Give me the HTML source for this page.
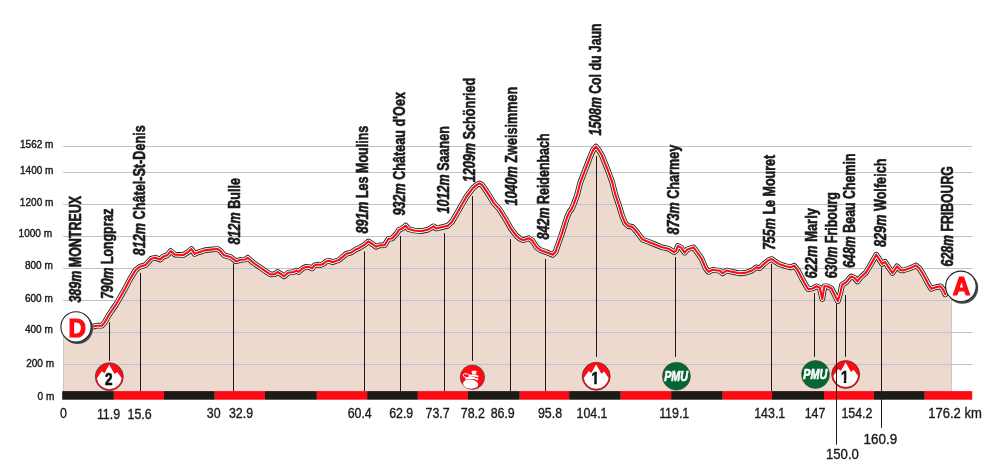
<!DOCTYPE html>
<html lang="fr"><head><meta charset="utf-8"><title>Profil étape Montreux – Fribourg</title>
<style>html,body{margin:0;padding:0;background:#fff}body{width:997px;height:473px;overflow:hidden}svg{display:block}text{font-family:'Liberation Sans', Arial, Helvetica, sans-serif;fill:#1a1a1a}.r{font-weight:bold}.ri{font-weight:bold;font-style:italic}.rl{stroke:#1a1a1a;stroke-width:0.6px;stroke-linejoin:round}.yl{stroke:#1a1a1a;stroke-width:0.4px}.xl{stroke:#1a1a1a;stroke-width:0.35px}</style></head><body>
<svg width="997" height="473" viewBox="0 0 997 473">
<rect width="997" height="473" fill="#fff"/>
<defs><clipPath id="nofoot"><path d="M-7 -15H7V-2.7H1.9V1H-1.15V-2.7H-7Z"/></clipPath></defs>
<polygon points="63.5,391.5 63.5,327 88.0,327.0 93.1,326.6 97.1,325.7 101.8,325.7 104.6,322.6 108.2,316.0 112.2,310.0 115.7,305.0 118.4,300.3 124.4,290.0 130.0,279.3 135.6,270.0 139.8,266.8 145.4,265.1 151.1,258.8 155.3,257.7 160.2,259.5 163.0,256.7 167.2,255.3 170.7,251.1 174.9,254.6 183.4,255.0 188.3,251.8 191.4,249.0 194.6,253.9 198.8,252.2 205.8,250.1 212.9,249.4 217.8,249.0 220.6,251.1 224.1,255.3 230.4,257.0 236.0,261.2 241.0,259.8 245.2,259.5 247.7,257.8 253.6,263.0 261.0,268.0 265.6,271.3 270.5,274.4 274.7,274.2 277.6,272.0 281.1,274.2 284.2,276.3 288.1,272.8 293.7,272.0 296.5,270.6 298.6,272.0 300.7,269.9 303.0,268.2 306.5,266.7 309.9,267.3 312.0,268.4 314.5,265.5 316.9,264.6 321.3,264.8 323.5,263.7 326.5,261.2 329.5,260.8 332.3,262.2 338.7,260.1 346.4,253.8 351.3,252.4 356.9,248.9 359.0,248.2 364.6,244.7 368.4,241.4 372.4,244.0 375.9,246.8 379.4,245.4 384.5,245.2 388.5,238.8 392.0,238.5 396.9,233.2 399.0,229.9 402.3,228.5 405.7,225.6 408.4,229.1 414.0,230.5 421.0,231.2 428.0,229.6 433.6,226.3 436.2,228.5 442.2,227.1 447.8,225.7 451.7,222.2 456.0,215.0 461.6,205.2 466.6,196.5 472.9,188.2 476.4,185.1 479.2,183.4 482.0,184.8 486.9,191.9 493.9,203.1 499.5,209.4 505.2,218.5 510.8,228.4 516.6,236.0 520.0,238.8 523.5,240.2 528.8,238.2 532.3,240.7 536.5,247.0 540.0,249.9 546.3,252.2 552.7,254.8 555.5,252.0 558.6,243.1 561.1,236.1 564.1,226.6 567.1,217.0 569.6,211.6 571.6,209.1 573.6,204.6 577.1,195.0 580.1,183.1 585.1,170.1 590.1,157.1 593.1,150.0 595.9,146.5 598.6,150.0 601.7,155.0 604.2,161.1 608.2,171.1 612.2,182.1 615.2,194.0 619.2,206.1 622.2,216.1 625.2,223.1 628.2,226.1 632.4,226.9 636.9,232.0 642.5,239.6 648.1,241.7 655.1,244.5 662.1,247.3 668.5,248.7 674.1,252.2 676.2,250.6 677.8,246.0 681.1,247.6 684.6,252.6 687.4,249.4 693.5,247.4 696.5,251.5 701.5,258.5 705.7,268.4 708.5,271.9 712.7,269.8 716.9,270.5 719.7,270.5 722.5,273.3 726.7,270.5 732.4,271.9 739.4,273.3 746.4,272.6 752.0,270.5 756.3,267.4 759.8,268.1 764.0,263.9 768.3,260.4 771.8,259.0 774.6,261.1 778.8,263.9 785.1,266.0 790.7,267.4 794.0,265.7 797.8,270.2 802.0,278.6 805.5,284.9 808.3,289.2 812.5,288.5 816.7,286.3 819.8,287.8 822.3,299.0 824.4,286.3 827.2,286.3 831.5,288.5 837.8,301.1 840.6,292.0 842.0,284.9 846.2,282.1 851.1,276.5 854.6,277.9 857.4,281.4 860.8,277.2 865.9,272.6 870.8,264.4 876.3,254.7 879.3,259.4 882.2,263.9 885.0,261.8 888.6,267.4 892.4,273.0 897.0,266.3 900.7,270.2 903.3,270.4 909.0,268.6 912.5,267.2 915.8,265.4 919.5,268.5 923.5,275.0 928.1,283.6 931.2,288.8 935.3,287.4 940.6,286.3 943.2,289.8 945.4,294.4 947,297 951.7,299 951.7,391.5" fill="#edd9cd"/>
<path d="M63.5 327V391.5M951.5 297V391.5" stroke="#c3c8d6" stroke-width="1" fill="none"/>
<path d="M63.2 146.5H972.2M63.2 172.5H972.2M63.2 204.5H972.2M63.2 236.5H972.2M63.2 268.5H972.2M63.2 300.5H972.2M63.2 332.5H972.2M63.2 364.5H972.2" stroke="#bdc2d0" stroke-width="1" fill="none"/>
<path d="M109.5 322.3V360.8M140.5 272.8V391.3M233.5 263.4V391.3M364.5 251.4V391.3M400.5 236.0V391.3M444.5 233.2V391.3M472.5 196.1V360.8M510.5 239.2V391.3M545.5 259.0V391.3M596.5 156.0V356.8M675.5 257.1V356.8M771.5 263.9V391.3M814.5 293.1V356.8M845.5 295.0V356.8M881.5 267.4V427.8" stroke="#1a1a1a" stroke-width="1" fill="none"/>
<g fill="none" stroke-linejoin="round" stroke-linecap="round">
<polyline points="88.0,327.0 93.1,326.6 97.1,325.7 101.8,325.7 104.6,322.6 108.2,316.0 112.2,310.0 115.7,305.0 118.4,300.3 124.4,290.0 130.0,279.3 135.6,270.0 139.8,266.8 145.4,265.1 151.1,258.8 155.3,257.7 160.2,259.5 163.0,256.7 167.2,255.3 170.7,251.1 174.9,254.6 183.4,255.0 188.3,251.8 191.4,249.0 194.6,253.9 198.8,252.2 205.8,250.1 212.9,249.4 217.8,249.0 220.6,251.1 224.1,255.3 230.4,257.0 236.0,261.2 241.0,259.8 245.2,259.5 247.7,257.8 253.6,263.0 261.0,268.0 265.6,271.3 270.5,274.4 274.7,274.2 277.6,272.0 281.1,274.2 284.2,276.3 288.1,272.8 293.7,272.0 296.5,270.6 298.6,272.0 300.7,269.9 303.0,268.2 306.5,266.7 309.9,267.3 312.0,268.4 314.5,265.5 316.9,264.6 321.3,264.8 323.5,263.7 326.5,261.2 329.5,260.8 332.3,262.2 338.7,260.1 346.4,253.8 351.3,252.4 356.9,248.9 359.0,248.2 364.6,244.7 368.4,241.4 372.4,244.0 375.9,246.8 379.4,245.4 384.5,245.2 388.5,238.8 392.0,238.5 396.9,233.2 399.0,229.9 402.3,228.5 405.7,225.6 408.4,229.1 414.0,230.5 421.0,231.2 428.0,229.6 433.6,226.3 436.2,228.5 442.2,227.1 447.8,225.7 451.7,222.2 456.0,215.0 461.6,205.2 466.6,196.5 472.9,188.2 476.4,185.1 479.2,183.4 482.0,184.8 486.9,191.9 493.9,203.1 499.5,209.4 505.2,218.5 510.8,228.4 516.6,236.0 520.0,238.8 523.5,240.2 528.8,238.2 532.3,240.7 536.5,247.0 540.0,249.9 546.3,252.2 552.7,254.8 555.5,252.0 558.6,243.1 561.1,236.1 564.1,226.6 567.1,217.0 569.6,211.6 571.6,209.1 573.6,204.6 577.1,195.0 580.1,183.1 585.1,170.1 590.1,157.1 593.1,150.0 595.9,146.5 598.6,150.0 601.7,155.0 604.2,161.1 608.2,171.1 612.2,182.1 615.2,194.0 619.2,206.1 622.2,216.1 625.2,223.1 628.2,226.1 632.4,226.9 636.9,232.0 642.5,239.6 648.1,241.7 655.1,244.5 662.1,247.3 668.5,248.7 674.1,252.2 676.2,250.6 677.8,246.0 681.1,247.6 684.6,252.6 687.4,249.4 693.5,247.4 696.5,251.5 701.5,258.5 705.7,268.4 708.5,271.9 712.7,269.8 716.9,270.5 719.7,270.5 722.5,273.3 726.7,270.5 732.4,271.9 739.4,273.3 746.4,272.6 752.0,270.5 756.3,267.4 759.8,268.1 764.0,263.9 768.3,260.4 771.8,259.0 774.6,261.1 778.8,263.9 785.1,266.0 790.7,267.4 794.0,265.7 797.8,270.2 802.0,278.6 805.5,284.9 808.3,289.2 812.5,288.5 816.7,286.3 819.8,287.8 822.3,299.0 824.4,286.3 827.2,286.3 831.5,288.5 837.8,301.1 840.6,292.0 842.0,284.9 846.2,282.1 851.1,276.5 854.6,277.9 857.4,281.4 860.8,277.2 865.9,272.6 870.8,264.4 876.3,254.7 879.3,259.4 882.2,263.9 885.0,261.8 888.6,267.4 892.4,273.0 897.0,266.3 900.7,270.2 903.3,270.4 909.0,268.6 912.5,267.2 915.8,265.4 919.5,268.5 923.5,275.0 928.1,283.6 931.2,288.8 935.3,287.4 940.6,286.3 943.2,289.8 945.4,294.4" stroke="#242424" stroke-width="5.7"/>
<polyline points="88.0,327.0 93.1,326.6 97.1,325.7 101.8,325.7 104.6,322.6 108.2,316.0 112.2,310.0 115.7,305.0 118.4,300.3 124.4,290.0 130.0,279.3 135.6,270.0 139.8,266.8 145.4,265.1 151.1,258.8 155.3,257.7 160.2,259.5 163.0,256.7 167.2,255.3 170.7,251.1 174.9,254.6 183.4,255.0 188.3,251.8 191.4,249.0 194.6,253.9 198.8,252.2 205.8,250.1 212.9,249.4 217.8,249.0 220.6,251.1 224.1,255.3 230.4,257.0 236.0,261.2 241.0,259.8 245.2,259.5 247.7,257.8 253.6,263.0 261.0,268.0 265.6,271.3 270.5,274.4 274.7,274.2 277.6,272.0 281.1,274.2 284.2,276.3 288.1,272.8 293.7,272.0 296.5,270.6 298.6,272.0 300.7,269.9 303.0,268.2 306.5,266.7 309.9,267.3 312.0,268.4 314.5,265.5 316.9,264.6 321.3,264.8 323.5,263.7 326.5,261.2 329.5,260.8 332.3,262.2 338.7,260.1 346.4,253.8 351.3,252.4 356.9,248.9 359.0,248.2 364.6,244.7 368.4,241.4 372.4,244.0 375.9,246.8 379.4,245.4 384.5,245.2 388.5,238.8 392.0,238.5 396.9,233.2 399.0,229.9 402.3,228.5 405.7,225.6 408.4,229.1 414.0,230.5 421.0,231.2 428.0,229.6 433.6,226.3 436.2,228.5 442.2,227.1 447.8,225.7 451.7,222.2 456.0,215.0 461.6,205.2 466.6,196.5 472.9,188.2 476.4,185.1 479.2,183.4 482.0,184.8 486.9,191.9 493.9,203.1 499.5,209.4 505.2,218.5 510.8,228.4 516.6,236.0 520.0,238.8 523.5,240.2 528.8,238.2 532.3,240.7 536.5,247.0 540.0,249.9 546.3,252.2 552.7,254.8 555.5,252.0 558.6,243.1 561.1,236.1 564.1,226.6 567.1,217.0 569.6,211.6 571.6,209.1 573.6,204.6 577.1,195.0 580.1,183.1 585.1,170.1 590.1,157.1 593.1,150.0 595.9,146.5 598.6,150.0 601.7,155.0 604.2,161.1 608.2,171.1 612.2,182.1 615.2,194.0 619.2,206.1 622.2,216.1 625.2,223.1 628.2,226.1 632.4,226.9 636.9,232.0 642.5,239.6 648.1,241.7 655.1,244.5 662.1,247.3 668.5,248.7 674.1,252.2 676.2,250.6 677.8,246.0 681.1,247.6 684.6,252.6 687.4,249.4 693.5,247.4 696.5,251.5 701.5,258.5 705.7,268.4 708.5,271.9 712.7,269.8 716.9,270.5 719.7,270.5 722.5,273.3 726.7,270.5 732.4,271.9 739.4,273.3 746.4,272.6 752.0,270.5 756.3,267.4 759.8,268.1 764.0,263.9 768.3,260.4 771.8,259.0 774.6,261.1 778.8,263.9 785.1,266.0 790.7,267.4 794.0,265.7 797.8,270.2 802.0,278.6 805.5,284.9 808.3,289.2 812.5,288.5 816.7,286.3 819.8,287.8 822.3,299.0 824.4,286.3 827.2,286.3 831.5,288.5 837.8,301.1 840.6,292.0 842.0,284.9 846.2,282.1 851.1,276.5 854.6,277.9 857.4,281.4 860.8,277.2 865.9,272.6 870.8,264.4 876.3,254.7 879.3,259.4 882.2,263.9 885.0,261.8 888.6,267.4 892.4,273.0 897.0,266.3 900.7,270.2 903.3,270.4 909.0,268.6 912.5,267.2 915.8,265.4 919.5,268.5 923.5,275.0 928.1,283.6 931.2,288.8 935.3,287.4 940.6,286.3 943.2,289.8 945.4,294.4" stroke="#fff" stroke-width="3.9"/>
<polyline points="88.0,327.0 93.1,326.6 97.1,325.7 101.8,325.7 104.6,322.6 108.2,316.0 112.2,310.0 115.7,305.0 118.4,300.3 124.4,290.0 130.0,279.3 135.6,270.0 139.8,266.8 145.4,265.1 151.1,258.8 155.3,257.7 160.2,259.5 163.0,256.7 167.2,255.3 170.7,251.1 174.9,254.6 183.4,255.0 188.3,251.8 191.4,249.0 194.6,253.9 198.8,252.2 205.8,250.1 212.9,249.4 217.8,249.0 220.6,251.1 224.1,255.3 230.4,257.0 236.0,261.2 241.0,259.8 245.2,259.5 247.7,257.8 253.6,263.0 261.0,268.0 265.6,271.3 270.5,274.4 274.7,274.2 277.6,272.0 281.1,274.2 284.2,276.3 288.1,272.8 293.7,272.0 296.5,270.6 298.6,272.0 300.7,269.9 303.0,268.2 306.5,266.7 309.9,267.3 312.0,268.4 314.5,265.5 316.9,264.6 321.3,264.8 323.5,263.7 326.5,261.2 329.5,260.8 332.3,262.2 338.7,260.1 346.4,253.8 351.3,252.4 356.9,248.9 359.0,248.2 364.6,244.7 368.4,241.4 372.4,244.0 375.9,246.8 379.4,245.4 384.5,245.2 388.5,238.8 392.0,238.5 396.9,233.2 399.0,229.9 402.3,228.5 405.7,225.6 408.4,229.1 414.0,230.5 421.0,231.2 428.0,229.6 433.6,226.3 436.2,228.5 442.2,227.1 447.8,225.7 451.7,222.2 456.0,215.0 461.6,205.2 466.6,196.5 472.9,188.2 476.4,185.1 479.2,183.4 482.0,184.8 486.9,191.9 493.9,203.1 499.5,209.4 505.2,218.5 510.8,228.4 516.6,236.0 520.0,238.8 523.5,240.2 528.8,238.2 532.3,240.7 536.5,247.0 540.0,249.9 546.3,252.2 552.7,254.8 555.5,252.0 558.6,243.1 561.1,236.1 564.1,226.6 567.1,217.0 569.6,211.6 571.6,209.1 573.6,204.6 577.1,195.0 580.1,183.1 585.1,170.1 590.1,157.1 593.1,150.0 595.9,146.5 598.6,150.0 601.7,155.0 604.2,161.1 608.2,171.1 612.2,182.1 615.2,194.0 619.2,206.1 622.2,216.1 625.2,223.1 628.2,226.1 632.4,226.9 636.9,232.0 642.5,239.6 648.1,241.7 655.1,244.5 662.1,247.3 668.5,248.7 674.1,252.2 676.2,250.6 677.8,246.0 681.1,247.6 684.6,252.6 687.4,249.4 693.5,247.4 696.5,251.5 701.5,258.5 705.7,268.4 708.5,271.9 712.7,269.8 716.9,270.5 719.7,270.5 722.5,273.3 726.7,270.5 732.4,271.9 739.4,273.3 746.4,272.6 752.0,270.5 756.3,267.4 759.8,268.1 764.0,263.9 768.3,260.4 771.8,259.0 774.6,261.1 778.8,263.9 785.1,266.0 790.7,267.4 794.0,265.7 797.8,270.2 802.0,278.6 805.5,284.9 808.3,289.2 812.5,288.5 816.7,286.3 819.8,287.8 822.3,299.0 824.4,286.3 827.2,286.3 831.5,288.5 837.8,301.1 840.6,292.0 842.0,284.9 846.2,282.1 851.1,276.5 854.6,277.9 857.4,281.4 860.8,277.2 865.9,272.6 870.8,264.4 876.3,254.7 879.3,259.4 882.2,263.9 885.0,261.8 888.6,267.4 892.4,273.0 897.0,266.3 900.7,270.2 903.3,270.4 909.0,268.6 912.5,267.2 915.8,265.4 919.5,268.5 923.5,275.0 928.1,283.6 931.2,288.8 935.3,287.4 940.6,286.3 943.2,289.8 945.4,294.4" stroke="#ff0a10" stroke-width="2.1"/>
</g>
<rect x="62.2" y="391.1" width="51.7" height="8.6" fill="#1d1a18"/>
<rect x="113.9" y="391.1" width="50.1" height="8.6" fill="#ff0a14"/>
<rect x="164.0" y="391.1" width="50.8" height="8.6" fill="#1d1a18"/>
<rect x="214.8" y="391.1" width="50.2" height="8.6" fill="#ff0a14"/>
<rect x="265.0" y="391.1" width="51.9" height="8.6" fill="#1d1a18"/>
<rect x="316.9" y="391.1" width="50.2" height="8.6" fill="#ff0a14"/>
<rect x="367.1" y="391.1" width="50.8" height="8.6" fill="#1d1a18"/>
<rect x="417.9" y="391.1" width="50.1" height="8.6" fill="#ff0a14"/>
<rect x="468.0" y="391.1" width="51.8" height="8.6" fill="#1d1a18"/>
<rect x="519.8" y="391.1" width="49.3" height="8.6" fill="#ff0a14"/>
<rect x="569.1" y="391.1" width="51.7" height="8.6" fill="#1d1a18"/>
<rect x="620.8" y="391.1" width="50.3" height="8.6" fill="#ff0a14"/>
<rect x="671.1" y="391.1" width="51.7" height="8.6" fill="#1d1a18"/>
<rect x="722.8" y="391.1" width="49.2" height="8.6" fill="#ff0a14"/>
<rect x="772.0" y="391.1" width="52.0" height="8.6" fill="#1d1a18"/>
<rect x="824.0" y="391.1" width="50.0" height="8.6" fill="#ff0a14"/>
<rect x="874.0" y="391.1" width="50.8" height="8.6" fill="#1d1a18"/>
<rect x="924.8" y="391.1" width="47.4" height="8.6" fill="#ff0a14"/>
<text class="yl" transform="translate(53.5,147.8) scale(0.950,1)" text-anchor="end" font-size="10.6">1562 m</text>
<text class="yl" transform="translate(53.5,173.5) scale(0.950,1)" text-anchor="end" font-size="10.6">1400 m</text>
<text class="yl" transform="translate(53.4,205.7) scale(0.950,1)" text-anchor="end" font-size="10.6">1200 m</text>
<text class="yl" transform="translate(52.1,236.5) scale(0.950,1)" text-anchor="end" font-size="10.6">1000 m</text>
<text class="yl" transform="translate(52.9,269.4) scale(0.950,1)" text-anchor="end" font-size="10.6">800 m</text>
<text class="yl" transform="translate(52.9,301.5) scale(0.950,1)" text-anchor="end" font-size="10.6">600 m</text>
<text class="yl" transform="translate(52.9,332.7) scale(0.950,1)" text-anchor="end" font-size="10.6">400 m</text>
<text class="yl" transform="translate(54.1,367.0) scale(0.950,1)" text-anchor="end" font-size="10.6">200 m</text>
<text class="yl" transform="translate(54.3,399.6) scale(0.950,1)" text-anchor="end" font-size="10.6">0 m</text>
<text class="xl" transform="translate(63.5,418.2) scale(0.880,1)" text-anchor="middle" font-size="14.1">0</text>
<text class="xl" transform="translate(108.5,419.0) scale(0.880,1)" text-anchor="middle" font-size="14.1">11.9</text>
<text class="xl" transform="translate(139.6,419.0) scale(0.880,1)" text-anchor="middle" font-size="14.1">15.6</text>
<text class="xl" transform="translate(213.7,417.7) scale(0.880,1)" text-anchor="middle" font-size="14.1">30</text>
<text class="xl" transform="translate(241.0,417.7) scale(0.880,1)" text-anchor="middle" font-size="14.1">32.9</text>
<text class="xl" transform="translate(359.7,417.7) scale(0.880,1)" text-anchor="middle" font-size="14.1">60.4</text>
<text class="xl" transform="translate(401.2,417.7) scale(0.880,1)" text-anchor="middle" font-size="14.1">62.9</text>
<text class="xl" transform="translate(437.6,417.7) scale(0.880,1)" text-anchor="middle" font-size="14.1">73.7</text>
<text class="xl" transform="translate(472.8,417.7) scale(0.880,1)" text-anchor="middle" font-size="14.1">78.2</text>
<text class="xl" transform="translate(502.7,417.7) scale(0.880,1)" text-anchor="middle" font-size="14.1">86.9</text>
<text class="xl" transform="translate(550.0,417.7) scale(0.880,1)" text-anchor="middle" font-size="14.1">95.8</text>
<text class="xl" transform="translate(592.0,417.7) scale(0.880,1)" text-anchor="middle" font-size="14.1">104.1</text>
<text class="xl" transform="translate(674.2,417.7) scale(0.880,1)" text-anchor="middle" font-size="14.1">119.1</text>
<text class="xl" transform="translate(769.7,417.7) scale(0.880,1)" text-anchor="middle" font-size="14.1">143.1</text>
<text class="xl" transform="translate(815.0,417.7) scale(0.880,1)" text-anchor="middle" font-size="14.1">147</text>
<text class="xl" transform="translate(856.9,417.6) scale(0.880,1)" text-anchor="middle" font-size="14.1">154.2</text>
<text class="xl" transform="translate(842.4,458.7) scale(0.935,1)" text-anchor="middle" font-size="14.1">150.0</text>
<text class="xl" transform="translate(880.4,443.8) scale(0.955,1)" text-anchor="middle" font-size="14.1">160.9</text>
<text class="xl" transform="translate(928.2,417.7) scale(0.925,1)" font-size="14.1">176.2 km</text>
<text class="rl" transform="translate(81.0,302.6) rotate(-90) scale(0.780,1)" font-size="16.0"><tspan class="ri">389m</tspan><tspan class="r"> MONTREUX</tspan></text>
<text class="rl" transform="translate(112.9,299.1) rotate(-90) scale(0.773,1)" font-size="16.0"><tspan class="ri">790m</tspan><tspan class="r"> Longpraz</tspan></text>
<text class="rl" transform="translate(144.6,255.4) rotate(-90) scale(0.792,1)" font-size="16.0"><tspan class="ri">812m</tspan><tspan class="r"> Châtel-St-Denis</tspan></text>
<text class="rl" transform="translate(239.8,244.4) rotate(-90) scale(0.787,1)" font-size="16.0"><tspan class="ri">812m</tspan><tspan class="r"> Bulle</tspan></text>
<text class="rl" transform="translate(368.1,233.5) rotate(-90) scale(0.782,1)" font-size="16.0"><tspan class="ri">891m</tspan><tspan class="r"> Les Moulins</tspan></text>
<text class="rl" transform="translate(404.9,215.5) rotate(-90) scale(0.788,1)" font-size="16.0"><tspan class="ri">932m</tspan><tspan class="r"> Château d'Oex</tspan></text>
<text class="rl" transform="translate(448.8,213.4) rotate(-90) scale(0.785,1)" font-size="16.0"><tspan class="ri">1012m</tspan><tspan class="r"> Saanen</tspan></text>
<text class="rl" transform="translate(475.1,182.2) rotate(-90) scale(0.789,1)" font-size="16.0"><tspan class="ri">1209m</tspan><tspan class="r"> Schönried</tspan></text>
<text class="rl" transform="translate(516.8,205.5) rotate(-90) scale(0.791,1)" font-size="16.0"><tspan class="ri">1040m</tspan><tspan class="r"> Zweisimmen</tspan></text>
<text class="rl" transform="translate(548.6,239.4) rotate(-90) scale(0.780,1)" font-size="16.0"><tspan class="ri">842m</tspan><tspan class="r"> Reidenbach</tspan></text>
<text class="rl" transform="translate(600.8,135.4) rotate(-90) scale(0.768,1)" font-size="16.0"><tspan class="ri">1508m</tspan><tspan class="r"> Col du Jaun</tspan></text>
<text class="rl" transform="translate(679.3,234.6) rotate(-90) scale(0.789,1)" font-size="16.0"><tspan class="ri">873m</tspan><tspan class="r"> Charmey</tspan></text>
<text class="rl" transform="translate(775.3,250.1) rotate(-90) scale(0.783,1)" font-size="16.0"><tspan class="ri">755m</tspan><tspan class="r"> Le Mouret</tspan></text>
<text class="rl" transform="translate(817.0,278.6) rotate(-90) scale(0.810,1)" font-size="16.0"><tspan class="ri">622m</tspan><tspan class="r"> Marly</tspan></text>
<text class="rl" transform="translate(837.0,278.3) rotate(-90) scale(0.776,1)" font-size="16.0"><tspan class="ri">630m</tspan><tspan class="r"> Fribourg</tspan></text>
<text class="rl" transform="translate(855.3,267.8) rotate(-90) scale(0.775,1)" font-size="16.0"><tspan class="ri">648m</tspan><tspan class="r"> Beau Chemin</tspan></text>
<text class="rl" transform="translate(885.6,247.0) rotate(-90) scale(0.792,1)" font-size="16.0"><tspan class="ri">829m</tspan><tspan class="r"> Wolfeich</tspan></text>
<text class="rl" transform="translate(953.2,266.4) rotate(-90) scale(0.768,1)" font-size="16.0"><tspan class="ri">628m</tspan><tspan class="r"> FRIBOURG</tspan></text>
<g transform="translate(109.3,376.7)"><circle r="14.0" fill="#ff0a14" stroke="#3a3a3a" stroke-width="0.7"/><path d="M-12.4 1.6L-7.5 -5.4L-4.9 -3.4L-0.1 -11.9L5.2 -2.6L8 -4.8L12.4 1.6A12.5 12.5 0 0 1 -12.4 1.6Z" fill="#fff"/><text transform="translate(-0.4,8.1) scale(0.8,1)" text-anchor="middle" font-size="17" font-weight="bold" style="fill:#111;stroke:#111;stroke-width:0.7px">2</text></g>
<g transform="translate(472.4,377.2)"><circle r="12.2" fill="#ff0a14" stroke="#4a4a4a" stroke-width="0.7"/><ellipse cx="-1.8" cy="6.9" rx="7.6" ry="4.5" transform="rotate(6 -1.8 6.9)" fill="#fff"/><path d="M-7.3 0.6Q-1 -1.6 5.9 1.2L5.6 3.2Q-1 0.6 -6.9 2.6Z" fill="#fff"/><path d="M-3.9 -2Q1 -3.4 6.2 -1.4L5.9 0.3Q1 -1.4 -3.7 -0.2Z" fill="#fff"/><path d="M-0.9 -5.6Q1.7 -7.6 4.3 -5.6L3.4 -2.6H0Z" fill="#fff"/><ellipse cx="-5.4" cy="-1.4" rx="4" ry="1.9" transform="rotate(14 -5.4 -1.4)" fill="none" stroke="#fff" stroke-width="0.9"/></g>
<g transform="translate(596.2,376.3)"><circle r="14.0" fill="#ff0a14" stroke="#3a3a3a" stroke-width="0.7"/><path d="M-12.4 1.6L-7.5 -5.4L-4.9 -3.4L-0.1 -11.9L5.2 -2.6L8 -4.8L12.4 1.6A12.5 12.5 0 0 1 -12.4 1.6Z" fill="#fff"/><text transform="translate(-1.0,8.1) scale(0.8,1)" clip-path="url(#nofoot)" text-anchor="middle" font-size="17" font-weight="bold" style="fill:#111;stroke:#111;stroke-width:0.7px">1</text></g>
<g transform="translate(676.4,376.2)"><circle r="14.0" fill="#046535" stroke="#5a4a30" stroke-width="0.6"/><text transform="translate(-0.3,4.9) scale(0.77,1)" text-anchor="middle" font-size="14" font-weight="bold" font-style="italic" style="fill:#fff;stroke:#fff;stroke-width:0.6px">PMU</text></g>
<g transform="translate(815.5,374.5)"><circle r="14.0" fill="#046535" stroke="#5a4a30" stroke-width="0.6"/><text transform="translate(-0.3,4.9) scale(0.77,1)" text-anchor="middle" font-size="14" font-weight="bold" font-style="italic" style="fill:#fff;stroke:#fff;stroke-width:0.6px">PMU</text></g>
<g transform="translate(845.7,374.5)"><circle r="14.0" fill="#ff0a14" stroke="#3a3a3a" stroke-width="0.7"/><path d="M-12.4 1.6L-7.5 -5.4L-4.9 -3.4L-0.1 -11.9L5.2 -2.6L8 -4.8L12.4 1.6A12.5 12.5 0 0 1 -12.4 1.6Z" fill="#fff"/><text transform="translate(-1.0,8.1) scale(0.8,1)" clip-path="url(#nofoot)" text-anchor="middle" font-size="17" font-weight="bold" style="fill:#111;stroke:#111;stroke-width:0.7px">1</text></g>
<path d="M836.5 303.5V444.6" stroke="#1a1a1a" stroke-width="1" fill="none"/>
<g transform="translate(76.0,326.9)"><circle cx="1.5" cy="1.6" r="15.5" fill="#4a4a4a"/><circle r="15.1" fill="#fff" stroke="#222" stroke-width="1.1"/><text transform="translate(1.3,9.6) scale(0.97,1)" text-anchor="middle" font-size="25" font-weight="bold" style="fill:#ff0a10;stroke:#ff0a10;stroke-width:1.2px;stroke-linejoin:miter">D</text></g>
<g transform="translate(960.9,286.4)"><circle cx="1.5" cy="1.6" r="15.8" fill="#4a4a4a"/><circle r="15.3" fill="#fff" stroke="#222" stroke-width="1.1"/><text transform="translate(0.7,8.7) scale(0.97,1)" text-anchor="middle" font-size="25" font-weight="bold" style="fill:#ff0a10;stroke:#ff0a10;stroke-width:1.2px;stroke-linejoin:miter">A</text></g>
</svg></body></html>
